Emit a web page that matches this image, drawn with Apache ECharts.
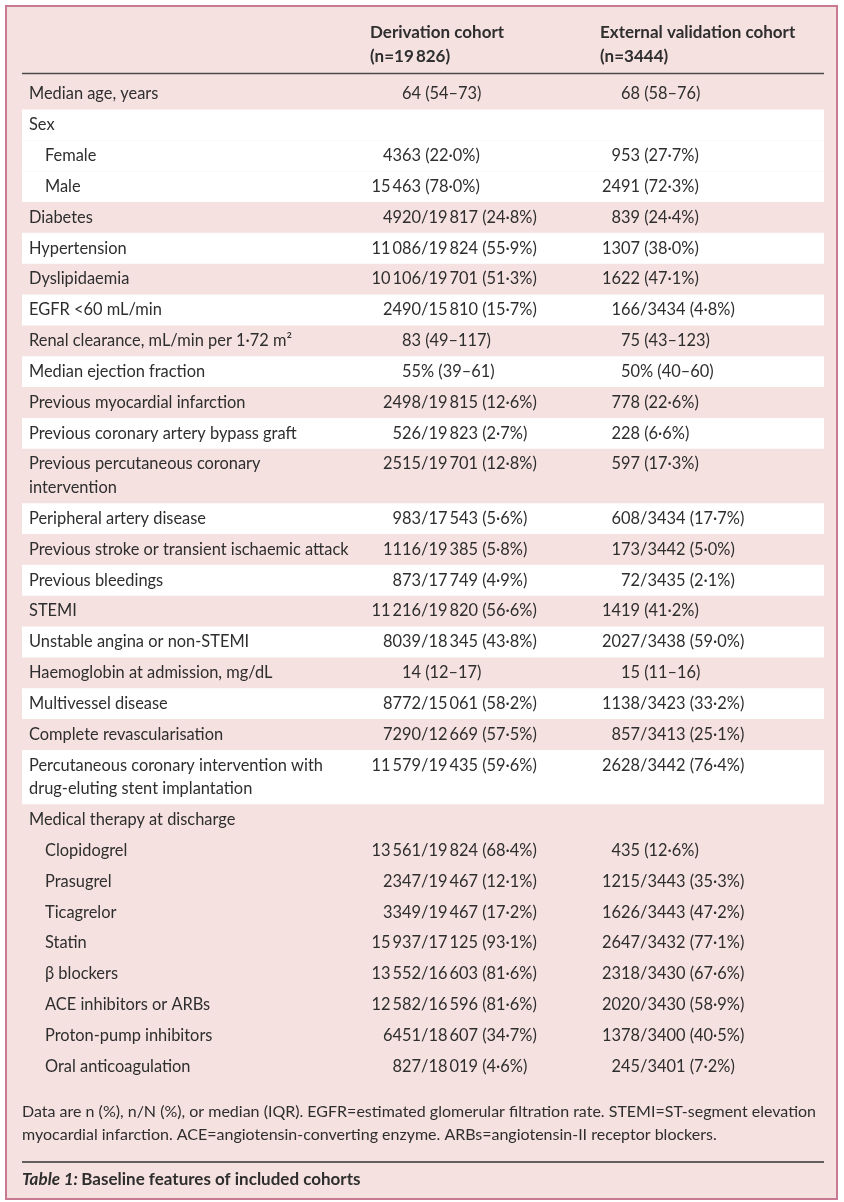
<!DOCTYPE html>
<html><head><meta charset="utf-8">
<script src="https://cdn.jsdelivr.net/npm/echarts@6/dist/echarts.min.js"></script>
<style>html,body{margin:0;padding:0;background:#fff}#c{width:844px;height:1202px}</style>
</head><body><div id="c"></div>
<script>
// ---------- data ----------
const columnHeaders = ["Derivation cohort", "External validation cohort"];
const columnSizes = ["(n=19\u2009826)", "(n=3444)"];
const rowLabels = [
  "Median age, years", "Sex", "Female", "Male", "Diabetes", "Hypertension", "Dyslipidaemia",
  "EGFR <60 mL/min", "Renal clearance, mL/min per 1\u00b772 m\u00b2", "Median ejection fraction",
  "Previous myocardial infarction", "Previous coronary artery bypass graft",
  "Previous percutaneous coronary\nintervention", "Peripheral artery disease",
  "Previous stroke or transient ischaemic attack", "Previous bleedings", "STEMI",
  "Unstable angina or non-STEMI", "Haemoglobin at admission, mg/dL", "Multivessel disease",
  "Complete revascularisation", "Percutaneous coronary intervention with\ndrug-eluting stent implantation",
  "Medical therapy at discharge", "Clopidogrel", "Prasugrel", "Ticagrelor", "Statin",
  "\u03b2 blockers", "ACE inhibitors or ARBs", "Proton-pump inhibitors", "Oral anticoagulation"
];
const derivationValues = [
  "64 (54\u201373)", "", "4363 (22\u00b70%)", "15\u2009463 (78\u00b70%)", "4920/19\u2009817 (24\u00b78%)",
  "11\u2009086/19\u2009824 (55\u00b79%)", "10\u2009106/19\u2009701 (51\u00b73%)", "2490/15\u2009810 (15\u00b77%)",
  "83 (49\u2013117)", "55% (39\u201361)", "2498/19\u2009815 (12\u00b76%)", "526/19\u2009823 (2\u00b77%)",
  "2515/19\u2009701 (12\u00b78%)", "983/17\u2009543 (5\u00b76%)", "1116/19\u2009385 (5\u00b78%)",
  "873/17\u2009749 (4\u00b79%)", "11\u2009216/19\u2009820 (56\u00b76%)", "8039/18\u2009345 (43\u00b78%)",
  "14 (12\u201317)", "8772/15\u2009061 (58\u00b72%)", "7290/12\u2009669 (57\u00b75%)",
  "11\u2009579/19\u2009435 (59\u00b76%)", "", "13\u2009561/19\u2009824 (68\u00b74%)",
  "2347/19\u2009467 (12\u00b71%)", "3349/19\u2009467 (17\u00b72%)", "15\u2009937/17\u2009125 (93\u00b71%)",
  "13\u2009552/16\u2009603 (81\u00b76%)", "12\u2009582/16\u2009596 (81\u00b76%)", "6451/18\u2009607 (34\u00b77%)",
  "827/18\u2009019 (4\u00b76%)"
];
const externalValues = [
  "68 (58\u201376)", "", "953 (27\u00b77%)", "2491 (72\u00b73%)", "839 (24\u00b74%)", "1307 (38\u00b70%)",
  "1622 (47\u00b71%)", "166/3434 (4\u00b78%)", "75 (43\u2013123)", "50% (40\u201360)", "778 (22\u00b76%)",
  "228 (6\u00b76%)", "597 (17\u00b73%)", "608/3434 (17\u00b77%)", "173/3442 (5\u00b70%)", "72/3435 (2\u00b71%)",
  "1419 (41\u00b72%)", "2027/3438 (59\u00b70%)", "15 (11\u201316)", "1138/3423 (33\u00b72%)",
  "857/3413 (25\u00b71%)", "2628/3442 (76\u00b74%)", "", "435 (12\u00b76%)", "1215/3443 (35\u00b73%)",
  "1626/3443 (47\u00b72%)", "2647/3432 (77\u00b71%)", "2318/3430 (67\u00b76%)", "2020/3430 (58\u00b79%)",
  "1378/3400 (40\u00b75%)", "245/3401 (7\u00b72%)"
];
// row grouping (rows sharing a group number belong to one block)
const rowGroup = [0,1,1,1,2,3,4,5,6,7,8,9,10,11,12,13,14,15,16,17,18,19,20,20,20,20,20,20,20,20,20];
const footnoteLines = [
  "Data are n (%), n/N (%), or median (IQR). EGFR=estimated glomerular filtration rate. STEMI=ST-segment elevation",
  "myocardial infarction. ACE=angiotensin-converting enzyme. ARBs=angiotensin-II receptor blockers."
];
const tableCaptionLabel = "Table 1:";
const tableCaptionText = "Baseline features of included cohorts";

// ---------- layout / style ----------
const FONT = 'Lato, "Open Sans", sans-serif';
const FS = 16.4;
const TEXT = '#2e2e2e';
const PINK = '#f6e1e1';
const FIRST_CENTER = 94, LINE = 30.85, WRAP = 23.5;
const LABEL_X = 29, INDENT = 16, ANCHORS = [421, 640];
const BAND_L = 22, BAND_R = 824;

const centers = [], bottoms = [];
let y = FIRST_CENTER;
rowLabels.forEach((lab, i) => {
  const n = lab.split('\n').length;
  centers.push(y);
  const last = y + (n - 1) * WRAP;
  bottoms.push(last + LINE / 2);
  y = last + LINE;
});
const groupFirst = {};
rowGroup.forEach((g, i) => { if (!(g in groupFirst)) groupFirst[g] = i; });
const groupCount = {};
rowGroup.forEach(g => { groupCount[g] = (groupCount[g] || 0) + 1; });

function splitValue(v) {
  const m = v.match(/^[\d\u2009]+/);
  if (!m) return ['', v];
  return [m[0], v.slice(m[0].length)];
}

const chart = echarts.init(document.getElementById('c'), null, {renderer: 'canvas'});

function renderItem(params, api) {
  const i = api.value(0);
  const c = centers[i];
  const top = c - LINE / 2;
  const children = [];
  if (rowGroup[i] % 2 === 1) {
    const p0 = api.coord([BAND_L, top]);
    const p1 = api.coord([BAND_R, bottoms[i]]);
    children.push({type: 'rect', shape: {x: p0[0], y: p0[1], width: p1[0] - p0[0], height: p1[1] - p0[1]},
      style: {fill: '#ffffff'}});
  }
  const g = rowGroup[i];
  const indent = (groupCount[g] > 1 && groupFirst[g] !== i) ? INDENT : 0;
  const lp = api.coord([LABEL_X + indent, c]);
  children.push({type: 'text', style: {text: rowLabels[i], x: lp[0], y: lp[1] - WRAP / 2,
    font: FS + 'px ' + FONT, fill: TEXT, align: 'left', verticalAlign: 'top', lineHeight: WRAP}});
  [derivationValues[i], externalValues[i]].forEach((v, k) => {
    if (!v) return;
    const parts = splitValue(v);
    const ap = api.coord([ANCHORS[k], c]);
    children.push({type: 'text', style: {text: parts[0], x: ap[0], y: ap[1], font: FS + 'px ' + FONT,
      fill: TEXT, align: 'right', verticalAlign: 'middle'}});
    children.push({type: 'text', style: {text: parts[1], x: ap[0], y: ap[1], font: FS + 'px ' + FONT,
      fill: TEXT, align: 'left', verticalAlign: 'middle'}});
  });
  return {type: 'group', children: children};
}

const option = {
  backgroundColor: '#ffffff',
  animation: false,
  grid: {left: 0, right: 0, top: 0, bottom: 0},
  xAxis: {type: 'value', min: 0, max: 844, show: false},
  yAxis: {type: 'value', min: 0, max: 1202, inverse: true, show: false},
  graphic: [
    {type: 'rect', z: -10, shape: {x: 6, y: 6, width: 831, height: 1193},
      style: {fill: PINK, stroke: '#c87a92', lineWidth: 2}},
    {type: 'text', style: {text: columnHeaders[0] + '\n' + columnSizes[0], x: 370, y: 21,
      font: 'bold 17px ' + FONT, fill: TEXT, lineHeight: 24}},
    {type: 'text', style: {text: columnHeaders[1] + '\n' + columnSizes[1], x: 600, y: 21,
      font: 'bold 17px ' + FONT, fill: TEXT, lineHeight: 24}},
    {type: 'line', shape: {x1: BAND_L, y1: 73.5, x2: BAND_R, y2: 73.5}, style: {stroke: '#4a4a4a', lineWidth: 1.3}},
    {type: 'text', style: {text: footnoteLines.join('\n'), x: BAND_L, y: 1100,
      font: '16px ' + FONT, fill: TEXT, lineHeight: 23}},
    {type: 'line', shape: {x1: BAND_L, y1: 1162, x2: BAND_R, y2: 1162}, style: {stroke: '#333', lineWidth: 1.3}},
    {type: 'text', style: {text: '{i|' + tableCaptionLabel + '} {b|' + tableCaptionText + '}', x: BAND_L, y: 1180,
      verticalAlign: 'middle', rich: {
        i: {fontStyle: 'italic', fontWeight: 'bold', fontSize: 17, fontFamily: FONT, fill: TEXT, color: TEXT},
        b: {fontWeight: 'bold', fontSize: 17, fontFamily: FONT, fill: TEXT, color: TEXT}
      }}}
  ],
  series: [{
    type: 'custom',
    renderItem: renderItem,
    data: rowLabels.map((_, i) => [i]),
    encode: {x: -1, y: -1},
    clip: false
  }]
};
chart.setOption(option);
</script></body></html>
